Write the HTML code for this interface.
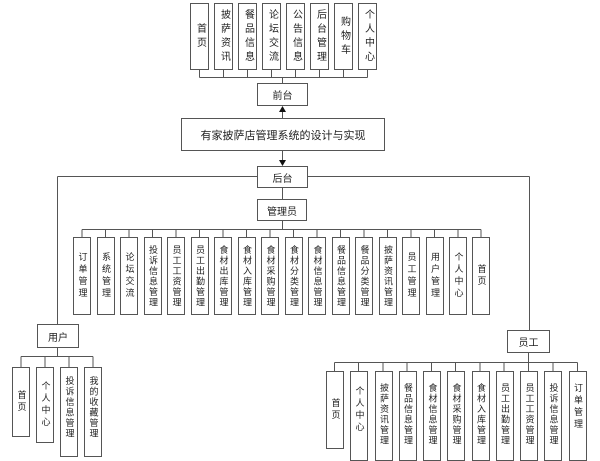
<!DOCTYPE html>
<html><head><meta charset="utf-8"><style>
body{margin:0;width:600px;height:429px;overflow:hidden;background:#fff;position:relative;font-family:"Liberation Sans","Noto Sans CJK SC",sans-serif;color:#222}
svg{position:absolute;left:0;top:0}
.b{position:absolute;box-sizing:border-box;border:1px solid #555;background:#fff;display:flex;align-items:center;justify-content:center;font-size:10px;overflow:hidden}
.v{writing-mode:vertical-rl;letter-spacing:3px;line-height:1;white-space:nowrap;font-size:9px}
.s{letter-spacing:1.5px}
.tp .v{letter-spacing:4px;font-size:10px}
.t{align-items:flex-start;padding-top:11px}
</style></head><body>
<svg width="600" height="429" stroke="#555" stroke-width="1" fill="none">
<path d="M199.5 70V77.5M223.5 70V77.5M247.5 70V77.5M271.5 70V77.5M295.5 70V77.5M319.5 70V77.5M343.5 70V77.5M367.5 70V77.5M199.5 77.5H367.5M282.5 77.5V83"/>
<path d="M282.5 118V111"/><polygon points="279,112 286,112 282.5,106" fill="#111" stroke="none"/>
<path d="M282.5 151V160"/><polygon points="279,160 286,160 282.5,166" fill="#111" stroke="none"/>
<path d="M57.5 176.5H529.5M57.5 176.5V324M529.5 176.5V330M282.5 188V199M282.5 221V229.5M82 229.5H481M82 229.5V237"/>
<path d="M105.5 229.5V237M129 229.5V237M152.5 229.5V237M176 229.5V237M199.5 229.5V237M223 229.5V237M246.5 229.5V237M270 229.5V237M293.5 229.5V237M317 229.5V237M340.5 229.5V237M364 229.5V237M387.5 229.5V237M411 229.5V237M434.5 229.5V237M458 229.5V237M481 229.5V237"/>
<path d="M57.5 348V356.5M21 356.5H93M21 356.5V367M45 356.5V367M69 356.5V367M93 356.5V367"/>
<path d="M528.5 353V362.5M334.5 362.5H577.5M334.5 362.5V371M358.5 362.5V371M383 362.5V371M407 362.5V371M431.5 362.5V371M455.5 362.5V371M480 362.5V371M504 362.5V371M528.5 362.5V371M553 362.5V371M577.5 362.5V371"/>
</svg>
<div class="tp">
<div class="b" style="left:190px;top:3px;width:19px;height:67px"><span class="v">首页</span></div>
<div class="b" style="left:214px;top:3px;width:19px;height:67px"><span class="v">披萨资讯</span></div>
<div class="b" style="left:238px;top:3px;width:19px;height:67px"><span class="v">餐品信息</span></div>
<div class="b" style="left:262px;top:3px;width:19px;height:67px"><span class="v">论坛交流</span></div>
<div class="b" style="left:286px;top:3px;width:19px;height:67px"><span class="v">公告信息</span></div>
<div class="b" style="left:310px;top:3px;width:19px;height:67px"><span class="v">后台管理</span></div>
<div class="b" style="left:334px;top:3px;width:19px;height:67px"><span class="v">购物车</span></div>
<div class="b" style="left:358px;top:3px;width:19px;height:67px"><span class="v">个人中心</span></div>
</div>
<div class="b" style="left:257px;top:83px;width:51px;height:23px">前台</div>
<div class="b" style="left:181px;top:118px;width:204px;height:33px;font-size:11px">有家披萨店管理系统的设计与实现</div>
<div class="b" style="left:257px;top:166px;width:51px;height:22px">后台</div>
<div class="b" style="left:257px;top:199px;width:50px;height:22px">管理员</div>
<!-- admin row -->
<div class="b" style="left:73px;top:237px;width:18px;height:78px"><span class="v">订单管理</span></div>
<div class="b" style="left:96.5px;top:237px;width:18px;height:78px"><span class="v">系统管理</span></div>
<div class="b" style="left:120px;top:237px;width:18px;height:78px"><span class="v">论坛交流</span></div>
<div class="b" style="left:143.5px;top:237px;width:18px;height:78px"><span class="v s">投诉信息管理</span></div>
<div class="b" style="left:167px;top:237px;width:18px;height:78px"><span class="v s">员工工资管理</span></div>
<div class="b" style="left:190.5px;top:237px;width:18px;height:78px"><span class="v s">员工出勤管理</span></div>
<div class="b" style="left:214px;top:237px;width:18px;height:78px"><span class="v s">食材出库管理</span></div>
<div class="b" style="left:237.5px;top:237px;width:18px;height:78px"><span class="v s">食材入库管理</span></div>
<div class="b" style="left:261px;top:237px;width:18px;height:78px"><span class="v s">食材采购管理</span></div>
<div class="b" style="left:284.5px;top:237px;width:18px;height:78px"><span class="v s">食材分类管理</span></div>
<div class="b" style="left:308px;top:237px;width:18px;height:78px"><span class="v s">食材信息管理</span></div>
<div class="b" style="left:331.5px;top:237px;width:18px;height:78px"><span class="v s">餐品信息管理</span></div>
<div class="b" style="left:355px;top:237px;width:18px;height:78px"><span class="v s">餐品分类管理</span></div>
<div class="b" style="left:378.5px;top:237px;width:18px;height:78px"><span class="v s">披萨资讯管理</span></div>
<div class="b" style="left:402px;top:237px;width:18px;height:78px"><span class="v">员工管理</span></div>
<div class="b" style="left:425.5px;top:237px;width:18px;height:78px"><span class="v">用户管理</span></div>
<div class="b" style="left:449px;top:237px;width:18px;height:78px"><span class="v">个人中心</span></div>
<div class="b" style="left:472px;top:237px;width:18px;height:78px"><span class="v">首页</span></div>
<!-- user -->
<div class="b" style="left:37px;top:324px;width:42px;height:24px">用户</div>
<div class="b" style="left:12px;top:367px;width:18px;height:70px"><span class="v">首页</span></div>
<div class="b" style="left:36px;top:367px;width:18px;height:76px"><span class="v">个人中心</span></div>
<div class="b t" style="left:60px;top:367px;width:18px;height:90px;padding-top:8px"><span class="v s">投诉信息管理</span></div>
<div class="b t" style="left:84px;top:367px;width:18px;height:90px;padding-top:8px"><span class="v s">我的收藏管理</span></div>
<!-- staff -->
<div class="b" style="left:507px;top:330px;width:43px;height:23px">员工</div>
<div class="b" style="left:326px;top:371px;width:18px;height:78px"><span class="v">首页</span></div>
<div class="b t" style="left:350px;top:371px;width:18px;height:90px;padding-top:14px"><span class="v">个人中心</span></div>
<div class="b t" style="left:374.5px;top:371px;width:18px;height:90px"><span class="v s">披萨资讯管理</span></div>
<div class="b t" style="left:398.5px;top:371px;width:18px;height:90px"><span class="v s">餐品信息管理</span></div>
<div class="b t" style="left:423px;top:371px;width:18px;height:90px"><span class="v s">食材信息管理</span></div>
<div class="b t" style="left:447px;top:371px;width:18px;height:90px"><span class="v s">食材采购管理</span></div>
<div class="b t" style="left:471.5px;top:371px;width:18px;height:90px"><span class="v s">食材入库管理</span></div>
<div class="b t" style="left:495.5px;top:371px;width:18px;height:90px"><span class="v s">员工出勤管理</span></div>
<div class="b t" style="left:520px;top:371px;width:18px;height:90px"><span class="v s">员工工资管理</span></div>
<div class="b t" style="left:544px;top:371px;width:18px;height:90px"><span class="v s">投诉信息管理</span></div>
<div class="b t" style="left:568.5px;top:371px;width:18px;height:90px"><span class="v">订单管理</span></div>
</body></html>
